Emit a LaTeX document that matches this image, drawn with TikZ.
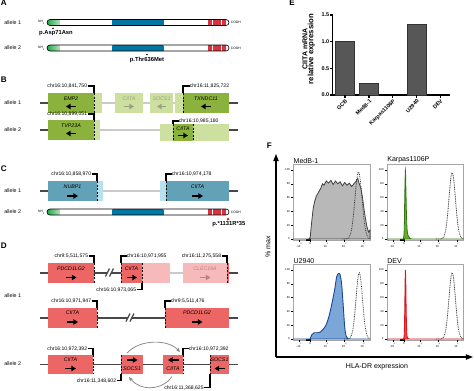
\documentclass[tikz,border=0pt]{standalone}
\usepackage{fontspec}
\setmainfont{Liberation Sans}
\usetikzlibrary{arrows.meta,positioning}

\newlength{\du}
\setlength{\du}{0.02cm}

\definecolor{dkgreen}{RGB}{140,178,62}
\definecolor{ltgreen}{RGB}{205,224,160}
\definecolor{fadegreen}{RGB}{150,162,128}
\definecolor{dkteal}{RGB}{98,162,184}
\definecolor{ltteal}{RGB}{184,224,238}
\definecolor{dkred}{RGB}{237,102,102}
\definecolor{ltred}{RGB}{247,186,186}
\definecolor{fadered}{RGB}{196,128,128}
\definecolor{bbone}{RGB}{72,72,72}
\definecolor{gapline}{RGB}{202,202,202}
\definecolor{protgreen}{RGB}{30,170,70}
\definecolor{protblue}{RGB}{40,172,212}
\definecolor{protbluedk}{RGB}{0,118,162}
\definecolor{protred}{RGB}{214,52,64}
\definecolor{karpgreen}{RGB}{104,172,44}
\definecolor{karpline}{RGB}{52,120,20}
\definecolor{ublue}{RGB}{122,166,216}
\definecolor{ubline}{RGB}{20,70,150}
\definecolor{devred}{RGB}{236,72,72}
\definecolor{devline}{RGB}{220,20,30}

\tikzset{
  panel/.style={inner sep=0pt, anchor=north west, font=\fontsize{4.6}{5}\selectfont\bfseries},
  allele/.style={inner sep=0pt, anchor=west, font=\fontsize{3}{3.5}\selectfont},
  chr/.style={inner sep=0pt, font=\fontsize{2.9}{3.3}\selectfont},
  gname/.style={inner sep=0pt, font=\fontsize{3}{3.5}\selectfont\itshape},
  mut/.style={inner sep=0pt, font=\fontsize{3.3}{4}\selectfont\bfseries},
  endlbl/.style={inner sep=0pt, font=\fontsize{1.9}{2.2}\selectfont},
  gbox/.style={draw=none, inner sep=0pt, outer sep=0pt, anchor=north west, minimum height=20\du, fill=#1},
  backbone/.style={line width=1.1pt, draw=bbone},
  gapbone/.style={line width=1.1pt, draw=gapline},
  brk/.style={line width=0.7pt, black},
  cut/.style={line width=0.45pt, black, dash pattern=on 1.2pt off 0.8pt},
  brkmark/.style={line width=0.7pt, bbone},
  dirarrow/.style={line width=0.75pt, -{Triangle[length=2.6pt,width=3pt]}},
  swaparrow/.style={black!50, line width=0.4pt, -{Stealth[length=2.5pt,width=2pt]}},
  etick/.style={inner sep=0pt, font=\fontsize{3.1}{3.6}\selectfont\bfseries},
  eylbl/.style={inner sep=0pt, font=\fontsize{4}{4.5}\selectfont\bfseries},
  eaxis/.style={line width=0.6pt},
  ebar/.style={fill=black!66, draw=black!80, line width=0.3pt},
  faxis/.style={line width=0.7pt, -{Triangle[length=4pt,width=3pt]}},
  ftitle/.style={inner sep=0pt, anchor=south west, font=\fontsize{4}{4.5}\selectfont},
  flbl/.style={inner sep=0pt, font=\fontsize{4}{4.5}\selectfont},
  fframe/.style={draw=black!35, line width=0.35pt},
  ftick/.style={inner sep=0pt, font=\fontsize{1.6}{2}\selectfont},
  iso/.style={black!75, line width=0.45pt, dash pattern=on 0.5pt off 0.5pt},
}

\begin{document}
\begin{tikzpicture}
\pgftransformxscale{1.000000}
\pgftransformyscale{-1.000000}
\useasboundingbox (0\du,0\du) rectangle (474\du,390\du);

% panel letters
\node[panel] (pA) at (0.5\du,-0.5\du) {A};
\node[panel] (pB) at (0.5\du,77\du) {B};
\node[panel] (pC) at (0.5\du,165\du) {C};
\node[panel] (pD) at (0.5\du,242.5\du) {D};
\node[panel] (pE) at (289\du,-0.5\du) {E};
\node[panel] (pF) at (266.5\du,142.5\du) {F};

% allele labels
\node[allele] (aA1) at (4\du,22.5\du) {allele 1};
\node[allele] (aA2) at (4\du,48\du) {allele 2};
\node[allele] (aB1) at (4\du,103\du) {allele 1};
\node[allele] (aB2) at (4\du,130\du) {allele 2};
\node[allele] (aC1) at (4\du,191\du) {allele 1};
\node[allele] (aC2) at (4\du,212\du) {allele 2};
\node[allele] (aD1) at (4\du,296\du) {allele 1};
\node[allele] (aD2) at (4\du,364\du) {allele 2};

% protein bars (A and C allele 2)
\foreach \py/\pn in {22.5/pa, 48/pb, 212/pc}{
  \pgfmathsetmacro{\ytop}{\py-3}
  \pgfmathsetmacro{\ybot}{\py+3}
  \begin{scope}
    \clip[rounded corners=3\du] (47\du,\ytop\du) rectangle (229\du,\ybot\du);
    \shade[left color=protgreen, right color=protgreen!35] (47\du,\ytop\du) rectangle (59.5\du,\ybot\du);
    \shade[top color=protbluedk, middle color=protblue, bottom color=protbluedk] (112.3\du,\ytop\du) rectangle (163.3\du,\ybot\du);
    \foreach \sx in {208,212.7,217.4,222.1}
      \fill[protred] (\sx\du,\ytop\du) rectangle ++(3.9\du,6\du);
  \end{scope}
  \draw[line width=0.35pt, rounded corners=3\du] (47\du,\ytop\du) rectangle (229\du,\ybot\du);
  \node[endlbl, anchor=east] (\pn-nh) at (45.5\du,\py\du) {NH\textsubscript{2}};
  \node[endlbl, anchor=west] (\pn-co) at (230.5\du,\py\du) {COOH};
}
\fill[black] (53\du,28.5\du) circle (0.9\du);
\node[mut] (mutA1) at (56\du,33.5\du) {p.Asp71Asn};
\fill[black] (147\du,54.5\du) circle (0.9\du);
\node[mut] (mutA2) at (147\du,60\du) {p.Thr636Met};
\fill[protred] (228\du,219\du) circle (1.5\du);
\node[mut, anchor=west] (mutC2) at (212\du,224.5\du) {p.*1131R*35};

% panel B, allele 1
\node[gbox=dkgreen, minimum width=46\du] (emp) at (48\du,93\du) {};
\node[gbox=ltgreen, minimum width=8\du] (emplt) at (94\du,93\du) {};
\node[gbox=ltgreen, minimum width=28\du] (bci) at (115\du,93\du) {};
\node[gbox=ltgreen, minimum width=23\du] (bso) at (150\du,93\du) {};
\node[gbox=ltgreen, minimum width=8\du] (txlt) at (175\du,93\du) {};
\node[gbox=dkgreen, minimum width=46\du] (txn) at (183\du,93\du) {};
\coordinate (b1l) at (40\du,103\du);
\coordinate (b1r) at (238\du,103\du);
\draw[backbone] (b1l) -- (emp.west);
\draw[gapbone] (emplt.east) -- (bci.west);
\draw[gapbone] (bci.east) -- (bso.west);
\draw[gapbone] (bso.east) -- (txlt.west);
\draw[backbone] (txn.east) -- (b1r);
\node[gname] (nemp) at (71\du,99\du) {EMP2};
\draw[dirarrow] (75.5\du,106.5\du) -- (66\du,106.5\du);
\node[gname, text=fadegreen] (nbci) at (129\du,99\du) {CIITA};
\draw[dirarrow, fadegreen] (124\du,106.5\du) -- (134\du,106.5\du);
\node[gname, text=fadegreen] (nbso) at (161.5\du,99\du) {SOCS1};
\draw[dirarrow, fadegreen] (166\du,106.5\du) -- (157\du,106.5\du);
\node[gname] (ntxn) at (206\du,99\du) {TXNDC11};
\draw[dirarrow] (210.5\du,106.5\du) -- (201\du,106.5\du);
\node[chr, anchor=east] (cb1) at (87.5\du,86\du) {chr16:10,841,750};
\draw[brk] (cb1.east) -| (94\du,93\du);
\draw[cut] (94\du,93\du) -- (94\du,113\du);
\node[chr, anchor=west] (cb2) at (189.5\du,86\du) {chr16:11,825,722};
\draw[brk] (cb2.west) -| (183\du,93\du);
\draw[cut] (183\du,93\du) -- (183\du,113\du);

% panel B, allele 2
\node[gbox=dkgreen, minimum width=46\du] (tvp) at (48\du,120\du) {};
\node[gbox=ltgreen, minimum width=6\du] (tvplt) at (94\du,120\du) {};
\node[gbox=ltgreen, minimum width=69\du, minimum height=17\du] (b2lt) at (160\du,124\du) {};
\node[gbox=dkgreen, minimum width=20\du, minimum height=17\du] (b2ci) at (173\du,124\du) {};
\coordinate (b2l) at (40\du,130\du);
\coordinate (b2r) at (238\du,130\du);
\draw[backbone] (b2l) -- (tvp.west);
\draw[gapbone] (tvplt.east) -- (b2lt.west |- b2l);
\draw[backbone] (b2lt.east |- b2r) -- (b2r);
\node[gname] (ntvp) at (71\du,126\du) {TVP23A};
\draw[dirarrow] (75.5\du,133.5\du) -- (66\du,133.5\du);
\node[gname] (nb2ci) at (183\du,128.5\du) {CIITA};
\draw[dirarrow] (178\du,135.5\du) -- (188\du,135.5\du);
\node[chr, anchor=east] (cb3) at (87.5\du,114\du) {chr16:10,899,051};
\draw[brk] (cb3.east) -| (94\du,120\du);
\draw[cut] (94\du,120\du) -- (94\du,140\du);
\node[chr, anchor=west] (cb4) at (178.5\du,121\du) {chr16:10,985,180};
\draw[brk] (cb4.west) -| (173\du,124\du);
\draw[cut] (173\du,124\du) -- (173\du,141\du);
\draw[cut] (193\du,124\du) -- (193\du,141\du);

% panel C, allele 1
\node[gbox=dkteal, minimum width=49\du] (nubp) at (48\du,181\du) {};
\node[gbox=ltteal, minimum width=6\du] (nubplt) at (97\du,181\du) {};
\node[gbox=ltteal, minimum width=6\du] (cclt) at (160\du,181\du) {};
\node[gbox=dkteal, minimum width=63\du] (cci) at (166\du,181\du) {};
\coordinate (c1l) at (40\du,191\du);
\coordinate (c1r) at (238\du,191\du);
\draw[backbone] (c1l) -- (nubp.west);
\draw[gapbone] (nubplt.east) -- (cclt.west);
\draw[backbone] (cci.east) -- (c1r);
\node[gname] (nnubp) at (72.5\du,187\du) {NUBP1};
\draw[dirarrow] (67\du,196\du) -- (78\du,196\du);
\node[gname] (ncci) at (197.5\du,187\du) {CIITA};
\draw[dirarrow] (192\du,196\du) -- (203\du,196\du);
\node[chr, anchor=east] (cc1) at (91.5\du,174\du) {chr16:10,858,970};
\draw[brk] (cc1.east) -| (97\du,181\du);
\draw[cut] (97\du,181\du) -- (97\du,201\du);
\node[chr, anchor=west] (cc2) at (171.5\du,174\du) {chr16:10,974,178};
\draw[brk] (cc2.west) -| (166\du,181\du);
\draw[cut] (166\du,181\du) -- (166\du,201\du);

% panel D, allele 1, first line
\node[gbox=dkred, minimum width=46\du] (pd1) at (48\du,263\du) {};
\node[gbox=dkred, minimum width=21\du] (dci) at (121\du,263\du) {};
\node[gbox=ltred, minimum width=28\du] (dcilt) at (142\du,263\du) {};
\node[gbox=ltred, minimum width=44\du] (clec) at (183\du,263\du) {};
\node[gbox=dkred, minimum width=2\du] (clecdk) at (227\du,263\du) {};
\coordinate (d1l) at (40\du,273\du);
\coordinate (d1r) at (238\du,273\du);
\draw[backbone] (d1l) -- (pd1.west);
\draw[backbone] (pd1.east) -- (dci.west);
\draw[gapbone] (dcilt.east) -- (clec.west);
\draw[backbone] (clecdk.east) -- (d1r);
\fill[white] (106\du,276\du) -- (110\du,268\du) -- (113\du,268\du) -- (109\du,276\du) -- cycle;
\draw[brkmark] (105.5\du,276.5\du) -- (109.5\du,268.5\du);
\draw[brkmark] (109.5\du,276.5\du) -- (113.5\du,268.5\du);
\node[gname] (npd1) at (71\du,268.5\du) {PDCD1LG2};
\draw[dirarrow] (66\du,277.5\du) -- (76.5\du,277.5\du);
\node[gname] (ndci) at (131.5\du,268.5\du) {CIITA};
\draw[dirarrow] (126.5\du,277.5\du) -- (137\du,277.5\du);
\node[gname, text=fadered] (nclec) at (205\du,268.5\du) {CLEC16A};
\draw[dirarrow, fadered] (200\du,277.5\du) -- (210.5\du,277.5\du);
\node[chr, anchor=east] (cd1) at (88.5\du,256\du) {chr9:5,511,575};
\draw[brk] (cd1.east) -| (94\du,263\du);
\draw[cut] (94\du,263\du) -- (94\du,283\du);
\node[chr, anchor=west] (cd2) at (126.5\du,256\du) {chr16:10,971,955};
\draw[brk] (cd2.west) -| (121\du,263\du);
\draw[cut] (121\du,263\du) -- (121\du,283\du);
\node[chr, anchor=east] (cd3) at (136.5\du,289.5\du) {chr16:10,973,065};
\draw[brk] (cd3.east) -| (142\du,283\du);
\draw[cut] (142\du,263\du) -- (142\du,283\du);
\node[chr, anchor=east] (cd4) at (221.5\du,256\du) {chr16:11,275,558};
\draw[brk] (cd4.east) -| (227\du,263\du);
\draw[cut] (227\du,263\du) -- (227\du,283\du);

% panel D, allele 1, second line
\node[gbox=dkred, minimum width=49\du] (r2ci) at (48\du,308\du) {};
\node[gbox=dkred, minimum width=64\du] (r2pd) at (165\du,308\du) {};
\coordinate (d2l) at (40\du,318\du);
\coordinate (d2r) at (238\du,318\du);
\draw[backbone] (d2l) -- (r2ci.west);
\draw[backbone] (r2ci.east) -- (r2pd.west);
\draw[backbone] (r2pd.east) -- (d2r);
\fill[white] (126.5\du,321\du) -- (130.5\du,313\du) -- (133.5\du,313\du) -- (129.5\du,321\du) -- cycle;
\draw[brkmark] (126\du,321.5\du) -- (130\du,313.5\du);
\draw[brkmark] (130\du,321.5\du) -- (134\du,313.5\du);
\node[gname] (nr2ci) at (72.5\du,312.5\du) {CIITA};
\draw[dirarrow] (67\du,322\du) -- (78\du,322\du);
\node[gname] (nr2pd) at (197\du,312.5\du) {PDCD1LG2};
\draw[dirarrow] (192\du,322\du) -- (202.5\du,322\du);
\node[chr, anchor=east] (cd5) at (91.5\du,301\du) {chr16:10,971,947};
\draw[brk] (cd5.east) -| (97\du,308\du);
\draw[cut] (97\du,308\du) -- (97\du,328\du);
\node[chr, anchor=west] (cd6) at (170.5\du,301\du) {chr9:5,511,476};
\draw[brk] (cd6.west) -| (165\du,308\du);
\draw[cut] (165\du,308\du) -- (165\du,328\du);

% panel D, allele 2
\node[gbox=dkred, minimum width=45\du, minimum height=19\du] (r3ci) at (48\du,355\du) {};
\node[gbox=dkred, minimum width=22\du, minimum height=19\du] (r3so) at (121\du,355\du) {};
\node[gbox=dkred, minimum width=20\du, minimum height=19\du] (r3cib) at (163\du,355\du) {};
\node[gbox=dkred, minimum width=19\du, minimum height=19\du] (r3sob) at (210\du,355\du) {};
\coordinate (d3l) at (40\du,364.5\du);
\coordinate (d3r) at (238\du,364.5\du);
\draw[backbone] (d3l) -- (r3ci.west);
\draw[backbone] (r3ci.east) -- (r3so.west);
\draw[backbone] (r3so.east) -- (r3cib.west);
\draw[backbone] (r3cib.east) -- (r3sob.west);
\draw[backbone] (r3sob.east) -- (d3r);
\node[gname] (nr3ci) at (70.5\du,360\du) {CIITA};
\draw[dirarrow] (65\du,368.5\du) -- (76\du,368.5\du);
\draw[dirarrow] (127\du,360\du) -- (137.5\du,360\du);
\node[gname] (nr3so) at (132\du,369\du) {SOCS1};
\draw[dirarrow] (178.5\du,360\du) -- (168\du,360\du);
\node[gname] (nr3cib) at (173\du,369\du) {CIITA};
\node[gname] (nr3sob) at (219.5\du,360\du) {SOCS1};
\draw[dirarrow] (224.5\du,368.5\du) -- (214.5\du,368.5\du);
\node[chr, anchor=east] (cd7) at (87.5\du,348.5\du) {chr16:10,972,392};
\draw[brk] (cd7.east) -| (93\du,355\du);
\draw[cut] (93\du,355\du) -- (93\du,374\du);
\node[chr, anchor=east] (cd8) at (116.5\du,380.5\du) {chr16:11,348,602};
\draw[brk] (cd8.east) -| (121\du,374\du);
\draw[cut] (121\du,355\du) -- (121\du,374\du);
\node[chr, anchor=west] (cd9) at (188.5\du,348.5\du) {chr16:10,972,392};
\draw[brk] (cd9.west) -| (183\du,355\du);
\draw[cut] (183\du,355\du) -- (183\du,374\du);
\node[chr, anchor=east] (cd10) at (204\du,387.5\du) {chr16:11,368,625};
\draw[brk] (cd10.east) -| (210\du,374\du);
\draw[cut] (210\du,355\du) -- (210\du,374\du);
\coordinate (swtopa) at (127\du,353\du);
\coordinate (swtopb) at (180\du,352\du);
\coordinate (swbota) at (172\du,376.5\du);
\coordinate (swbotb) at (129\du,377\du);
\draw[swaparrow] (swtopa) .. controls (140\du,339\du) and (168\du,339\du) .. (swtopb);
\draw[swaparrow] (swbota) .. controls (162\du,391\du) and (140\du,391\du) .. (swbotb);

% panel E
\draw[eaxis] (332.7\du,14.3\du) -- (332.7\du,95\du) -- (450\du,95\du);
\foreach \ty/\tl/\tn in {95/0.0/a, 68.3/0.5/b, 41.7/1.0/c, 15/1.5/d}{
  \draw[eaxis] (332.7\du,\ty\du) -- (330.4\du,\ty\du);
  \node[etick, anchor=east] (ey\tn) at (329.5\du,\ty\du) {\tl};
}
\filldraw[ebar] (335.2\du,95\du) rectangle (354.7\du,41.7\du);
\filldraw[ebar] (359.2\du,95\du) rectangle (378.7\du,83.3\du);
\filldraw[ebar] (406.9\du,95\du) rectangle (426.4\du,24\du);
\foreach \cx/\cl/\cn in {345/GCB/gcb, 369/MedB-1/medb, 392.7/Karpas1106P/karp, 416.7/U2940/utwo, 440.3/DEV/dev}{
  \draw[eaxis] (\cx\du,95\du) -- (\cx\du,97.5\du);
  \node[etick, rotate=45, anchor=north east] (ex\cn) at (\cx\du,98.5\du) {\cl};
}
\node[eylbl, rotate=90] (eyl1) at (305\du,49\du) {CIITA mRNA};
\node[eylbl, rotate=90, font=\fontsize{4.4}{5}\selectfont\bfseries] (eyl2) at (311.5\du,49\du) {relative expression};

% panel F
\coordinate (forig) at (276\du,357\du);
\coordinate (fytop) at (276\du,154\du);
\coordinate (fxend) at (473\du,357\du);
\draw[faxis] (forig) -- (fytop);
\draw[faxis] (forig) -- (fxend);
\node[flbl, rotate=90] (fyl) at (268\du,247\du) {\% max};
\node[flbl] (fxl) at (377\du,367\du) {HLA-DR expression};
\foreach \fx/\fy/\fn/\ft in {293.3/239/medb/MedB-1, 387/239/karp/Karpas1106P, 293.3/339/utwo/U2940, 387/339/dev/DEV}{
  \node[ftitle] (t\fn) at (\fx\du,\fy\du-75.5\du) {\ft};
  \begin{scope}[shift={(\fx\du,\fy\du)}, x=76.7\du, y=-0.69\du]
    \draw[fframe] (0,-1.5) rectangle (1,108.7);
    \foreach \tv in {0,20,40,60,80,100}{
      \draw[line width=0.25pt] (0,\tv) -- (-0.025,\tv);
      \node[ftick, anchor=east] (\fn y\tv) at (-0.04,\tv) {\tv};
    }
    \foreach \tu/\tl/\tk in {0.08/-10\textsuperscript{3}/a, 0.22/0/b, 0.43/10\textsuperscript{3}/c, 0.67/10\textsuperscript{4}/d, 0.91/10\textsuperscript{5}/e}{
      \draw[line width=0.25pt] (\tu,-1.5) -- (\tu,-4);
      \node[ftick, anchor=north] (\fn x\tk) at (\tu,-5) {\tl};
    }
    \draw[line width=1pt] (0.17,-1.5) -- (0.23,-1.5);
  \end{scope}
}
% MedB-1
\begin{scope}[shift={(293.3\du,239\du)}, x=76.7\du, y=-0.69\du]
  \filldraw[fill=black!28, draw=black!75, line width=0.45pt] (0,0) -- (0.2,0) -- (0.22,2) -- (0.24,25) -- (0.26,45) -- (0.28,55) -- (0.30,62) -- (0.32,66) -- (0.34,70) -- (0.36,74) -- (0.38,80) -- (0.40,78) -- (0.43,84) -- (0.46,81) -- (0.49,85) -- (0.52,79) -- (0.55,84) -- (0.58,80) -- (0.61,83) -- (0.64,77) -- (0.67,82) -- (0.70,78) -- (0.73,81) -- (0.76,76) -- (0.79,80) -- (0.82,84) -- (0.84,88) -- (0.86,80) -- (0.88,74) -- (0.90,62) -- (0.92,45) -- (0.94,30) -- (0.96,18) -- (0.98,10) -- (1,13) -- (1,0) -- cycle;
  \draw[iso] plot[domain=0.64:1, samples=50, smooth] (\x,{97*exp(-((\x-0.85)/0.065)^2)});
\end{scope}
% Karpas1106P
\begin{scope}[shift={(387\du,239\du)}, x=76.7\du, y=-0.69\du]
  \filldraw[fill=karpgreen, draw=karpline, line width=0.45pt] (0,0) -- plot[smooth] coordinates {(0.2,0) (0.215,1) (0.225,15) (0.232,65) (0.24,100) (0.247,70) (0.254,35) (0.262,14) (0.275,5) (0.3,1) (0.33,0)} -- (1,0) -- cycle;
  \draw[iso] plot[domain=0.64:1, samples=50, smooth] (\x,{96*exp(-((\x-0.85)/0.06)^2)});
\end{scope}
% U2940
\begin{scope}[shift={(293.3\du,339\du)}, x=76.7\du, y=-0.69\du]
  \filldraw[fill=ublue, draw=ubline, line width=0.5pt] (0,0) -- (0.22,0) -- plot[smooth] coordinates {(0.22,0) (0.24,6) (0.27,9) (0.31,9) (0.35,10) (0.39,14) (0.43,21) (0.47,35) (0.51,55) (0.54,72) (0.565,90) (0.59,95) (0.61,93) (0.63,80) (0.65,50) (0.67,18) (0.69,4) (0.72,0)} -- (1,0) -- cycle;
  \draw[iso] plot[domain=0.66:1, samples=50, smooth] (\x,{96*exp(-((\x-0.86)/0.06)^2)});
\end{scope}
% DEV
\begin{scope}[shift={(387\du,339\du)}, x=76.7\du, y=-0.69\du]
  \filldraw[fill=devred, draw=devline, line width=0.5pt] (0,0) -- plot[smooth] coordinates {(0.2,0) (0.222,2) (0.23,30) (0.236,80) (0.24,100) (0.245,80) (0.25,40) (0.258,8) (0.27,1) (0.29,0)} -- (1,0) -- cycle;
  \draw[iso] plot[domain=0.64:1, samples=50, smooth] (\x,{96*exp(-((\x-0.85)/0.06)^2)});
\end{scope}
\end{tikzpicture}
\end{document}
